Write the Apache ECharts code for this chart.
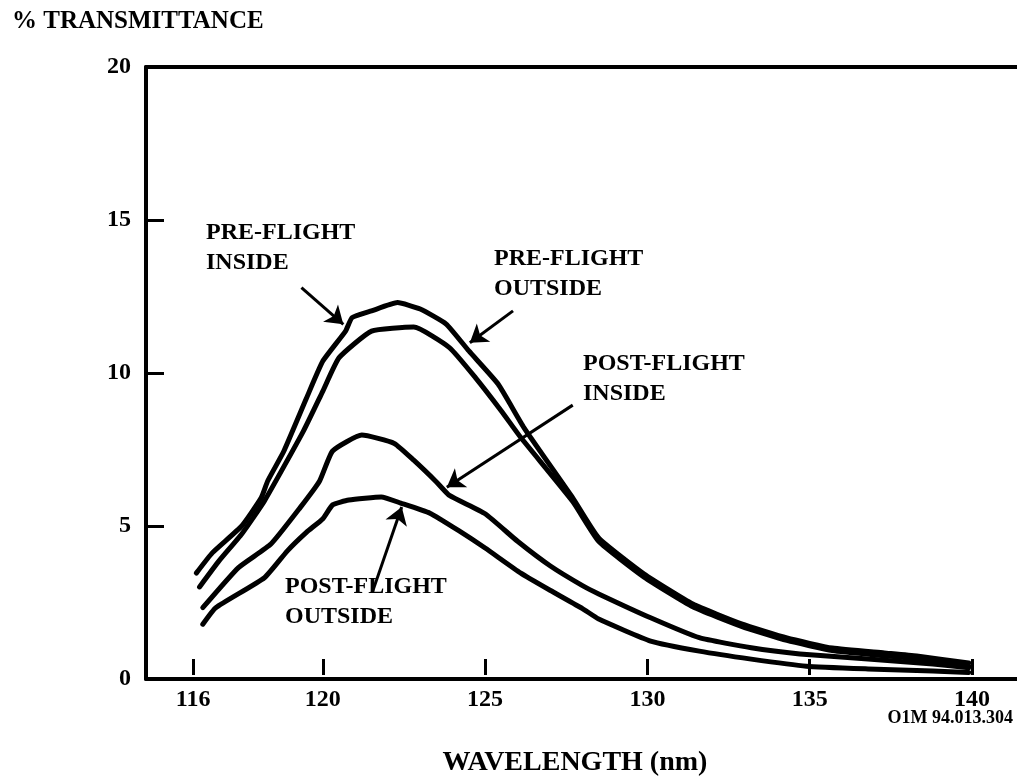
<!DOCTYPE html>
<html>
<head>
<meta charset="utf-8">
<script src="https://cdn.jsdelivr.net/npm/echarts@6/dist/echarts.min.js"></script>
<style>
    html, body { margin: 0; padding: 0; background: #fff; }
    #chart { width: 1017px; height: 782px; }
</style>
</head>
<body>
<div id="chart"></div>
<script>
// wavelength (nm) / % transmittance
var preInsideX = [116.1, 116.6, 117.5, 118.1, 118.3, 118.8, 119.5, 120.0, 120.7, 120.9, 121.5, 122.3, 123.0, 123.8, 124.5, 125.4, 126.2, 127.7, 128.5, 129.9, 131.4, 132.9, 134.3, 135.7, 137.3, 138.3, 139.9];
var preInsideY = [3.46, 4.13, 5.0, 5.92, 6.47, 7.45, 9.19, 10.39, 11.37, 11.81, 12.03, 12.30, 12.09, 11.6, 10.72, 9.64, 8.21, 5.92, 4.61, 3.43, 2.45, 1.80, 1.34, 1.01, 0.85, 0.75, 0.52];

var preOutsideX = [116.2, 116.8, 117.5, 118.2, 119.4, 120.0, 120.5, 121.5, 122.8, 123.9, 124.7, 125.5, 126.1, 127.7, 128.5, 129.9, 131.4, 132.9, 134.3, 135.7, 137.3, 138.3, 139.9];
var preOutsideY = [3.01, 3.86, 4.74, 5.82, 8.10, 9.41, 10.50, 11.37, 11.5, 10.83, 9.85, 8.76, 7.89, 5.80, 4.50, 3.33, 2.36, 1.72, 1.26, 0.93, 0.76, 0.66, 0.42];

var postInsideX = [116.3, 117.4, 118.4, 119.3, 119.9, 120.3, 121.2, 122.2, 122.8, 123.5, 123.9, 125.0, 126.0, 127.0, 128.0, 128.5, 130.1, 131.6, 133.2, 134.7, 136.8, 138.8, 139.9];
var postInsideY = [2.33, 3.64, 4.41, 5.60, 6.47, 7.45, 7.97, 7.70, 7.15, 6.44, 6.0, 5.4, 4.5, 3.7, 3.05, 2.78, 2.0, 1.35, 1.02, 0.82, 0.65, 0.49, 0.37];

var postOutsideX = [116.3, 116.7, 118.2, 118.9, 119.5, 120.0, 120.3, 120.8, 121.8, 122.4, 123.3, 124.2, 125.0, 126.1, 127.0, 128.0, 128.5, 130.1, 131.6, 133.2, 134.9, 136.8, 138.8, 139.9];
var postOutsideY = [1.79, 2.33, 3.31, 4.18, 4.80, 5.24, 5.69, 5.85, 5.95, 5.75, 5.42, 4.84, 4.28, 3.46, 2.9, 2.3, 1.96, 1.24, 0.91, 0.65, 0.42, 0.33, 0.26, 0.21];

var xTicks = [116, 120, 125, 130, 135, 140];

// arrows: [label, tail, head] in data coords
var arrows = [
    ['PRE-FLIGHT\nINSIDE', [119.34, 12.79], [120.63, 11.59]],
    ['PRE-FLIGHT\nOUTSIDE', [125.86, 12.03], [124.53, 10.99]],
    ['POST-FLIGHT\nINSIDE', [127.70, 8.95], [123.82, 6.27]],
    ['POST-FLIGHT\nOUTSIDE', [121.54, 2.88], [122.43, 5.62]]
];

var serif = '"Liberation Serif", "DejaVu Serif", serif';
var X_MIN = 114.55, X_MAX = 141.39;

function zip(xs, ys) {
    var out = [];
    for (var i = 0; i < xs.length; i++) out.push([xs[i], ys[i]]);
    return out;
}

function curve(name, xs, ys) {
    return {
        name: name,
        type: 'line',
        data: zip(xs, ys),
        showSymbol: false,
        smooth: 0.15,
        lineStyle: { color: '#000', width: 5, cap: 'round', join: 'round' },
        silent: true
    };
}

function label(text, x, y) {
    return {
        type: 'text',
        x: x,
        y: y,
        style: {
            text: text,
            font: 'bold 24px ' + serif,
            fill: '#000',
            lineHeight: 30,
            verticalAlign: 'top'
        }
    };
}

var chart = echarts.init(document.getElementById('chart'));

var series = [
    curve('PRE-FLIGHT INSIDE', preInsideX, preInsideY),
    curve('PRE-FLIGHT OUTSIDE', preOutsideX, preOutsideY),
    curve('POST-FLIGHT INSIDE', postInsideX, postInsideY),
    curve('POST-FLIGHT OUTSIDE', postOutsideX, postOutsideY)
];

series[0].markLine = {
    silent: true,
    animation: false,
    symbol: ['none', 'arrow'],
    symbolSize: 17,
    label: { show: false },
    lineStyle: { color: '#000', width: 3, type: 'solid' },
    emphasis: { disabled: true },
    data: arrows.map(function (a) {
        return [{ coord: a[1] }, { coord: a[2] }];
    })
};

var option = {
    animation: false,
    backgroundColor: '#fff',
    grid: { left: 146, right: 0, top: 67, bottom: 103 },
    xAxis: [{
        type: 'value',
        min: X_MIN,
        max: X_MAX,
        position: 'bottom',
        axisLine: { lineStyle: { color: '#000', width: 4 } },
        axisTick: { show: false },
        splitLine: { show: false },
        axisLabel: {
            customValues: xTicks,
            margin: 9,
            color: '#000',
            fontFamily: serif,
            fontWeight: 'bold',
            fontSize: 24
        }
    }, {
        // tick marks sit a little above the axis line
        type: 'value',
        min: X_MIN,
        max: X_MAX,
        position: 'bottom',
        offset: -4,
        axisLine: { show: false },
        axisTick: {
            inside: true,
            length: 16,
            customValues: xTicks,
            lineStyle: { color: '#000', width: 3 }
        },
        axisLabel: { show: false },
        splitLine: { show: false }
    }, {
        type: 'value',
        min: X_MIN,
        max: X_MAX,
        position: 'top',
        axisLine: { lineStyle: { color: '#000', width: 4 } },
        axisTick: { show: false },
        axisLabel: { show: false },
        splitLine: { show: false }
    }],
    yAxis: {
        type: 'value',
        min: 0,
        max: 20,
        interval: 5,
        axisLine: { show: true, lineStyle: { color: '#000', width: 4 } },
        axisTick: { show: true, inside: true, length: 18, lineStyle: { color: '#000', width: 3 } },
        splitLine: { show: false },
        axisLabel: {
            margin: 15,
            color: '#000',
            fontFamily: serif,
            fontWeight: 'bold',
            fontSize: 24
        }
    },
    graphic: [
        {
            type: 'text', x: 12, y: 22,
            style: { text: '% TRANSMITTANCE', font: 'bold 25px ' + serif, fill: '#000', verticalAlign: 'middle' }
        },
        {
            type: 'text', x: 575, y: 763,
            style: { text: 'WAVELENGTH (nm)', font: 'bold 28px ' + serif, fill: '#000', align: 'center', verticalAlign: 'middle' }
        },
        {
            type: 'text', x: 1013, y: 718,
            style: { text: 'O1M 94.013.304', font: 'bold 18px ' + serif, fill: '#000', align: 'right', verticalAlign: 'middle' }
        },
        label(arrows[0][0], 206, 218),
        label(arrows[1][0], 494, 244),
        label(arrows[2][0], 583, 349),
        label(arrows[3][0], 285, 572)
    ],
    series: series
};

chart.setOption(option);
</script>
</body>
</html>
